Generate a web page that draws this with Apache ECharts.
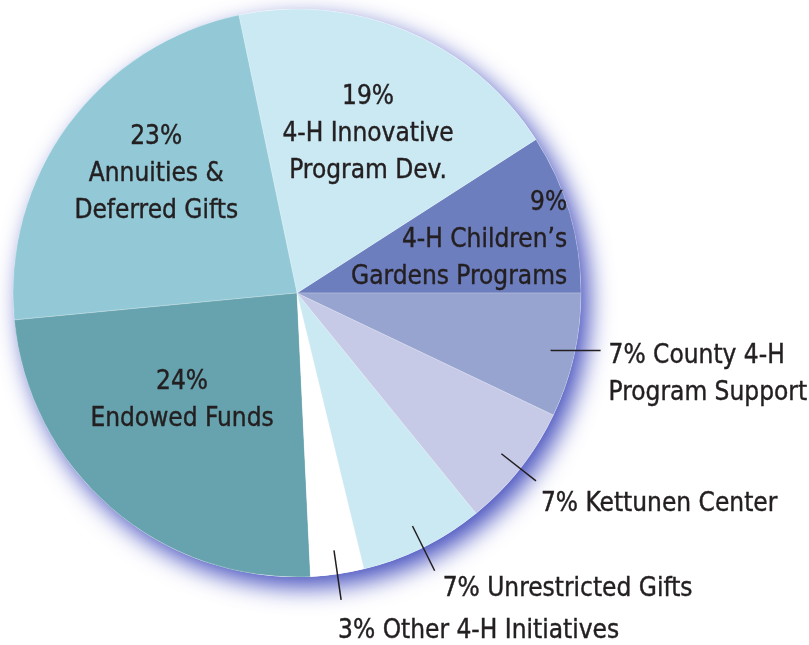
<!DOCTYPE html>
<html>
<head>
<meta charset="utf-8">
<script src="https://cdn.jsdelivr.net/npm/echarts@6/dist/echarts.min.js"></script>
<style>
  html, body { margin: 0; padding: 0; background: #fff; }
  #chart { width: 809px; height: 645px; }
</style>
</head>
<body>
<div id="chart"></div>
<script>
// slices, counter-clockwise from 3 o'clock
const categories = [
  '4-H Children’s Gardens Programs',
  '4-H Innovative Program Dev.',
  'Annuities & Deferred Gifts',
  'Endowed Funds',
  'Other 4-H Initiatives',
  'Unrestricted Gifts',
  'Kettunen Center',
  'County 4-H Program Support'
]
const values = [9, 19, 23, 24, 3, 7, 7, 7]
const labelTexts = [
  ['4-H Children’s', 'Gardens Programs'],
  ['4-H Innovative', 'Program Dev.'],
  ['Annuities &', 'Deferred Gifts'],
  ['Endowed Funds'],
  ['Other 4-H Initiatives'],
  ['Unrestricted Gifts'],
  ['Kettunen Center'],
  ['County 4-H', 'Program Support']
]
const colors = ['#6d7ebe', '#cbe9f3', '#93c9d7', '#66a3ae', '#ffffff', '#cbe9f3', '#c6cae6', '#97a4cf']

const FONT = '"DejaVu Sans Condensed", "Liberation Sans Narrow", sans-serif'
const TEXT = '#231f20'
const FS = 26
const CENTER = [297, 293]
const R = 284

// 扇区内部标签（padding 把文字挪离默认中点）
const innerCfg = {
  0: { padding: [0, 0, 24, 42], right: true },
  1: { padding: [0, 0, 50, 30] },
  2: { padding: [0, 48, 66, 0] },
  3: { padding: [0, 40, 4, 0] }
}
// 外部标签 + 引线，gap 为文字上方的空行高度
const outerCfg = {
  4: { length: 50, length2: 0, dist: -3, gap: 63, inline: true },
  5: { length: 50, length2: 0, dist: 8, gap: 37, inline: true },
  6: { length: 44, length2: 0, dist: 5, gap: 46, inline: true },
  7: { length: 1, length2: 49, dist: 8, gap: 48, inline: false }
}

const textBase = {
  fontFamily: FONT,
  fontSize: FS,
  lineHeight: 37,
  color: TEXT,
  textBorderColor: TEXT,
  textBorderWidth: 0.4
}

function innerData() {
  return values.map((v, i) => {
    const cfg = innerCfg[i]
    const item = { value: v, name: categories[i], itemStyle: { color: colors[i] } }
    if (!cfg) {
      item.label = { show: false }
      return item
    }
    const lines = [v + '%'].concat(labelTexts[i])
    item.label = {
      show: true,
      position: 'inside',
      padding: cfg.padding,
      formatter: cfg.right ? lines.map((t) => '{r|' + t + '}').join('\n') : lines.join('\n'),
      rich: cfg.right ? { r: Object.assign({ width: 220, align: 'right' }, textBase) } : {}
    }
    return item
  })
}

function outerData() {
  return values.map((v, i) => {
    const cfg = outerCfg[i]
    const item = { value: v, name: categories[i] }
    if (!cfg) {
      item.label = { show: false }
      item.labelLine = { show: false }
      return item
    }
    const txt = cfg.inline ? v + '% ' + labelTexts[i].join(' ') : v + '% ' + labelTexts[i].join('\n')
    item.label = {
      show: true,
      position: 'outside',
      distanceToLabelLine: cfg.dist,
      formatter: '{g| }\n' + txt,
      rich: { g: { lineHeight: cfg.gap, fontSize: 2 } }
    }
    item.labelLine = { show: true, length: cfg.length, length2: cfg.length2 }
    return item
  })
}

const chart = echarts.init(document.getElementById('chart'))
const option = {
  animation: false,
  series: [
    {
      // 阴影底盘
      type: 'pie',
      center: CENTER,
      radius: R,
      silent: true,
      z: 1,
      label: { show: false },
      labelLine: { show: false },
      data: [{ value: 1, name: 'shadow' }],
      itemStyle: {
        color: '#ffffff',
        shadowBlur: 24,
        shadowColor: 'rgba(70, 80, 190, 1)',
        shadowOffsetX: 8,
        shadowOffsetY: 10
      }
    },
    {
      type: 'pie',
      center: CENTER,
      radius: R,
      startAngle: 0,
      clockwise: false,
      silent: true,
      z: 2,
      avoidLabelOverlap: false,
      labelLayout: { hideOverlap: false },
      itemStyle: { borderColor: 'rgba(255,255,255,0.35)', borderWidth: 0.6 },
      label: textBase,
      labelLine: { show: false },
      data: innerData()
    },
    {
      // 只用来画外部标签和引线
      type: 'pie',
      center: CENTER,
      radius: 260,
      startAngle: 0,
      clockwise: false,
      silent: true,
      z: 3,
      avoidLabelOverlap: false,
      labelLayout: { hideOverlap: false },
      itemStyle: { color: 'rgba(0,0,0,0)' },
      label: textBase,
      labelLine: { lineStyle: { color: '#231f20', width: 1.5 } },
      data: outerData()
    }
  ]
}
chart.setOption(option)
</script>
</body>
</html>
